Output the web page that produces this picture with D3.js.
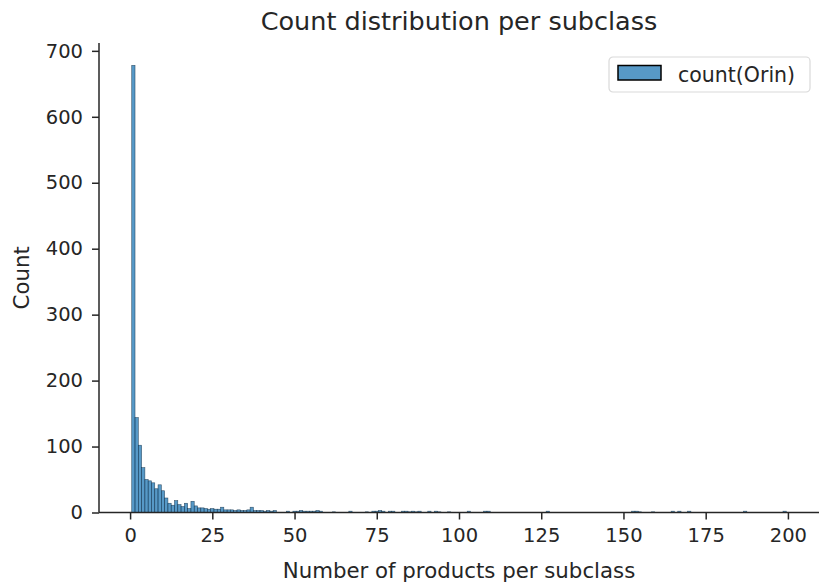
<!DOCTYPE html>
<html>
<head>
<meta charset="utf-8">
<script src="https://cdn.jsdelivr.net/npm/d3@7"></script>
<style>
  body { margin: 0; background: #fff; }
  svg text { font-family: "DejaVu Sans", sans-serif; fill: #262626; }
</style>
</head>
<body>
<div id="chart"></div>
<script>
// histogram bins (integer values, discrete bins), only non-empty bins listed
const binValues = [1, 2, 3, 4, 5, 6, 7, 8, 9, 10, 11, 12, 13, 14, 15, 16, 17, 18, 19, 20,
    21, 22, 23, 24, 25, 26, 27, 28, 29, 30, 31, 32, 33, 34, 35, 36, 37, 38, 39, 40,
    41, 42, 43, 44, 48, 50, 51, 52, 53, 54, 55, 56, 57, 58, 62, 67, 72, 74, 75, 76,
    77, 79, 80, 83, 84, 85, 86, 87, 88, 91, 93, 94, 97, 103, 108, 109, 127, 153, 154, 155,
    159, 165, 167, 170, 187, 199];
const binCounts = [678, 144, 102, 68, 50, 48, 45, 36, 42, 33, 22, 14, 11, 18, 12, 9, 14, 6, 17, 10,
    7, 7, 6, 5, 6, 5, 5, 8, 4, 4, 4, 3, 4, 3, 3, 4, 8, 3, 3, 3,
    2, 3, 2, 3, 2, 2, 2, 3, 2, 2, 2, 2, 3, 2, 1, 2, 1, 2, 2, 3,
    2, 2, 2, 2, 2, 1, 2, 1, 2, 2, 2, 1, 1, 2, 2, 2, 2, 2, 2, 1,
    1, 2, 2, 2, 2, 2];

const xTicks = [0, 25, 50, 75, 100, 125, 150, 175, 200];
const yTicks = [0, 100, 200, 300, 400, 500, 600, 700];

const titleText = 'Count distribution per subclass';
const xLabel = 'Number of products per subclass';
const yLabel = 'Count';
const legendLabel = 'count(Orin)';

const width = 819, height = 588;
const margin = {top: 43, right: 0, bottom: 75.5, left: 99};

const barColor = '#1f77b4';

const svg = d3.select('#chart').append('svg')
    .attr('width', width)
    .attr('height', height);

const bins = binValues.map((v, i) => ({x0: v - 0.5, x1: v + 0.5, count: binCounts[i]}));

// matplotlib style 5% margins
const xMin = d3.min(bins, d => d.x0), xMax = d3.max(bins, d => d.x1);
const xPad = (xMax - xMin) * 0.05;
const x = d3.scaleLinear()
    .domain([xMin - xPad, xMax + xPad])
    .range([margin.left, width - margin.right]);
const y = d3.scaleLinear()
    .domain([0, d3.max(binCounts) * 1.05])
    .range([height - margin.bottom, margin.top]);

// bars
svg.append('g')
  .selectAll('rect')
  .data(bins)
  .join('rect')
    .attr('x', d => x(d.x0))
    .attr('width', d => x(d.x1) - x(d.x0))
    .attr('y', d => y(d.count))
    .attr('height', d => y(0) - y(d.count))
    .attr('fill', barColor)
    .attr('fill-opacity', 0.75)
    .attr('stroke', '#0d2c44')
    .attr('stroke-opacity', 0.75)
    .attr('stroke-width', 0.6);

// axes
const xAxis = svg.append('g')
    .attr('transform', `translate(0,${y(0)})`)
    .call(d3.axisBottom(x).tickValues(xTicks).tickSize(7).tickPadding(9));
const yAxis = svg.append('g')
    .attr('transform', `translate(${margin.left},0)`)
    .call(d3.axisLeft(y).tickValues(yTicks).tickSize(7).tickPadding(9));

[xAxis, yAxis].forEach(a => {
    a.select('.domain').attr('stroke', '#262626').attr('stroke-width', 1.5);
    a.selectAll('.tick line').attr('stroke', '#262626').attr('stroke-width', 1.5);
    a.selectAll('.tick text').attr('font-size', 19.5).attr('fill', '#262626');
});
xAxis.select('.domain').attr('d', `M${margin.left},0H${width}`);
yAxis.select('.domain').attr('d', `M0,${y(0)}V${margin.top}`);

// title and labels
svg.append('text')
    .attr('x', (margin.left + width - margin.right) / 2)
    .attr('y', 30)
    .attr('text-anchor', 'middle')
    .attr('font-size', 25.5)
    .text(titleText);

svg.append('text')
    .attr('x', (margin.left + width - margin.right) / 2)
    .attr('y', 578)
    .attr('text-anchor', 'middle')
    .attr('font-size', 21.3)
    .text(xLabel);

svg.append('text')
    .attr('transform', `translate(29,${(y(0) + margin.top) / 2}) rotate(-90)`)
    .attr('text-anchor', 'middle')
    .attr('font-size', 21.3)
    .text(yLabel);

// legend
const legend = svg.append('g').attr('transform', 'translate(609,57)');
legend.append('rect')
    .attr('width', 201)
    .attr('height', 35)
    .attr('rx', 4)
    .attr('fill', '#fff')
    .attr('fill-opacity', 0.8)
    .attr('stroke', '#d9d9d9')
    .attr('stroke-width', 1.2);
legend.append('rect')
    .attr('x', 9)
    .attr('y', 8.5)
    .attr('width', 43)
    .attr('height', 14.5)
    .attr('fill', barColor)
    .attr('fill-opacity', 0.75)
    .attr('stroke', '#000')
    .attr('stroke-width', 1.5);
legend.append('text')
    .attr('x', 69)
    .attr('y', 25)
    .attr('font-size', 20.5)
    .text(legendLabel);
</script>
</body>
</html>
